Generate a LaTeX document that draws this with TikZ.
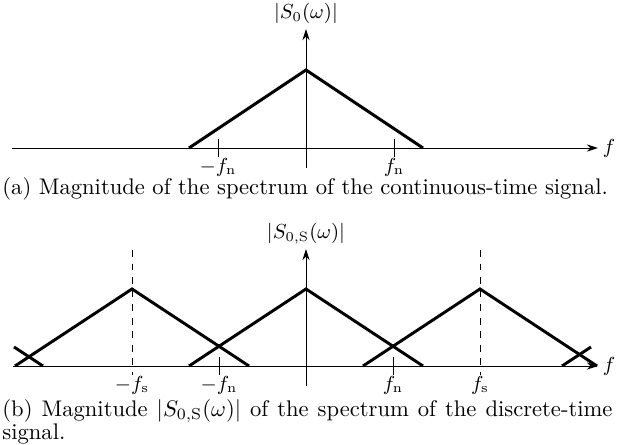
\documentclass[tikz,border=0pt]{standalone}
\usetikzlibrary{arrows.meta}
\begin{document}
\begin{tikzpicture}[x=0.4426pt,y=-0.4426pt,
  axis/.style={-{Stealth[length=5pt,width=3.2pt]}, line width=0.4pt},
  spec/.style={line width=1.3pt, line join=miter, line cap=butt},
  tickmark/.style={line width=0.4pt},
  guide/.style={dashed, line width=0.4pt},
  lbl/.style={inner sep=0.3pt, font=\small}]
\useasboundingbox (0,0) rectangle (623,445);
% ---------- (a) ----------
\coordinate (aL) at (12,148);
\coordinate (aR) at (598,148);
\coordinate (aB) at (306,168);
\coordinate (aT) at (306,29);
\draw[axis] (aL) -- (aR);
\node[lbl, anchor=west, inner sep=2pt] (af) at (aR) {$f$};
\draw[axis] (aB) -- (aT);
\node[lbl, anchor=south, inner sep=2pt] (ay) at (aT) {$|S_0(\omega)|$};
\coordinate (a1) at (189,148);
\coordinate (a2) at (306,70);
\coordinate (a3) at (423,148);
\draw[spec] (a1) -- (a2) -- (a3);
\coordinate (atn1) at (218,139); \coordinate (atn2) at (218,157);
\coordinate (atp1) at (394,139); \coordinate (atp2) at (394,157);
\draw[tickmark] (atn1) -- (atn2);
\draw[tickmark] (atp1) -- (atp2);
\node[lbl, anchor=north] (afnm) at (atn2) {$-f_\mathrm{n}$};
\node[lbl, anchor=north] (afnp) at (atp2) {$f_\mathrm{n}$};
\node[anchor=north west, inner sep=0pt] (capa) at (2,177)
  {(a)\ Magnitude of the spectrum of the continuous-time signal.};
% ---------- (b) ----------
\coordinate (bL) at (13,366);
\coordinate (bR) at (598,366);
\coordinate (bB) at (306,386);
\coordinate (bT) at (306,249);
\draw[axis] (bL) -- (bR);
\node[lbl, anchor=west, inner sep=2pt] (bf) at (bR) {$f$};
\draw[axis] (bB) -- (bT);
\node[lbl, anchor=south, inner sep=2pt] (by) at (bT) {$|S_{0,\mathrm{S}}(\omega)|$};
% dashed guides at -fs and fs
\coordinate (gl1) at (132,250); \coordinate (gl2) at (132,375);
\coordinate (gr1) at (480,250); \coordinate (gr2) at (480,375);
\draw[guide] (gl1) -- (gl2);
\draw[guide] (gr1) -- (gr2);
% triangles
\coordinate (l1) at (15,366); \coordinate (l2) at (132,289); \coordinate (l3) at (249,366);
\coordinate (c1) at (189,366); \coordinate (c2) at (306,289); \coordinate (c3) at (423,366);
\coordinate (r1) at (363,366); \coordinate (r2) at (480,289); \coordinate (r3) at (597,366);
\draw[spec] (l1) -- (l2) -- (l3);
\draw[spec] (c1) -- (c2) -- (c3);
\draw[spec] (r1) -- (r2) -- (r3);
% partial outer copies
\coordinate (o1) at (14,347); \coordinate (o2) at (43,366);
\coordinate (o3) at (562,366); \coordinate (o4) at (591,347);
\draw[spec] (o1) -- (o2);
\draw[spec] (o3) -- (o4);
% ticks at -fn and fn
\coordinate (btn1) at (219,357); \coordinate (btn2) at (219,375);
\coordinate (btp1) at (393,357); \coordinate (btp2) at (393,375);
\draw[tickmark] (btn1) -- (btn2);
\draw[tickmark] (btp1) -- (btp2);
\node[lbl, anchor=north] (bfsm) at (gl2) {$-f_\mathrm{s}$};
\node[lbl, anchor=north] (bfnm) at (btn2) {$-f_\mathrm{n}$};
\node[lbl, anchor=north] (bfnp) at (btp2) {$f_\mathrm{n}$};
\node[lbl, anchor=north] (bfsp) at (gr2) {$f_\mathrm{s}$};
\node[anchor=north west, inner sep=0pt, text width=270pt, align=justify,
      font=\fontsize{10}{10.4}\selectfont] (capb) at (2,399)
  {(b)\ Magnitude $|S_{0,\mathrm{S}}(\omega)|$ of the spectrum of the discrete-time signal.};
\end{tikzpicture}
\end{document}
